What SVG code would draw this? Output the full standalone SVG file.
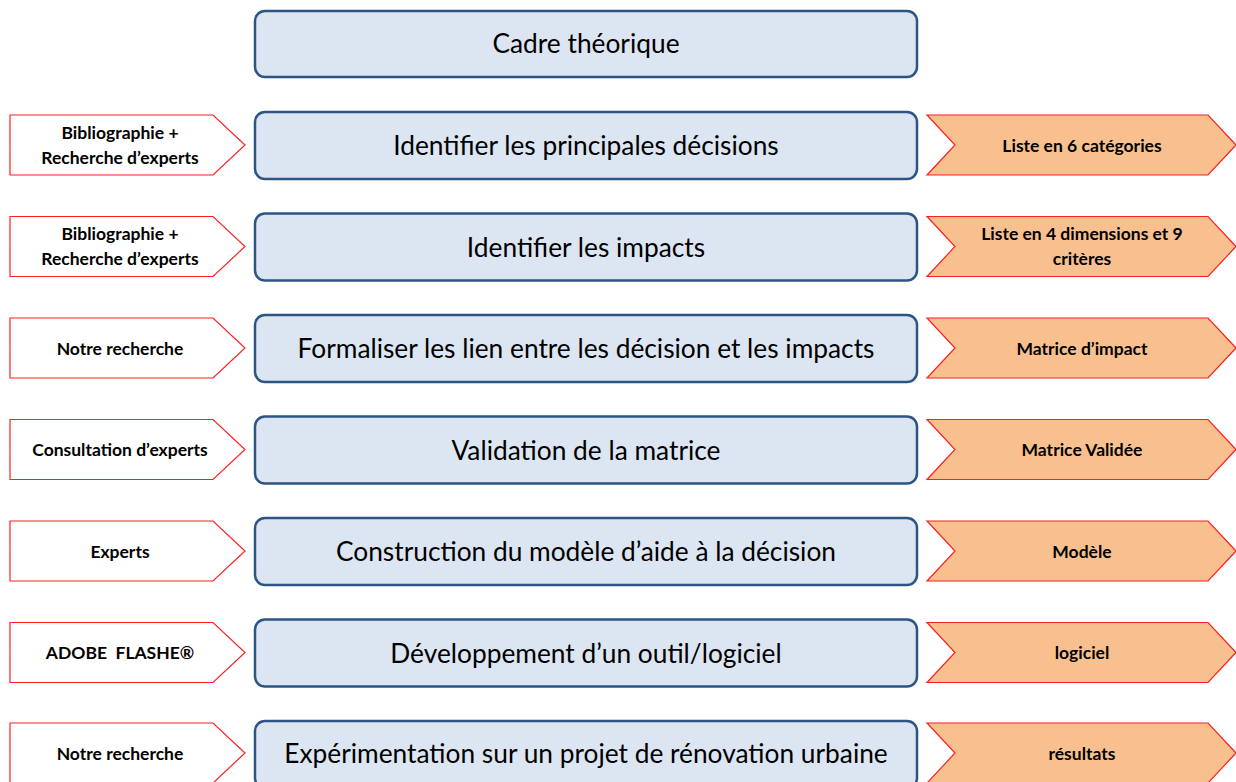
<svg xmlns="http://www.w3.org/2000/svg" width="1236" height="782" viewBox="0 0 1236 782">
<style>
.box{fill:#dce6f2;stroke:#2c5584;stroke-width:2.5}
.in{fill:#ffffff;stroke:#ff2020;stroke-width:1.2}
.out{fill:#f9c08f;stroke:#ff2020;stroke-width:1.2}
.t{font-family:Lato,"Open Sans",sans-serif;font-size:26.3px;fill:#000;text-anchor:middle;dominant-baseline:central}
.s{font-family:Lato,"Open Sans",sans-serif;font-size:17.5px;font-weight:bold;fill:#000;text-anchor:middle;dominant-baseline:central}
</style>
<defs>
<path id="pent" d="M10,0 H213 L245,30 L213,60 H10 Z"/>
<path id="chev" d="M927,0 H1208 L1236,30 L1208,60 H927 L955,30 Z"/>
</defs>
<g id="cadre">
<rect class="box" x="255" y="11" width="662" height="66" rx="10"/>
<text class="t" x="586" y="43">Cadre théorique</text>
</g>
<g id="row1" transform="translate(0,115)">
<use href="#pent" class="in"/><text class="s" x="120" y="17">Bibliographie +</text><text class="s" x="120" y="42">Recherche d’experts</text>
<rect class="box" x="255" y="-3" width="662" height="67" rx="10"/>
<text class="t" x="586" y="30">Identifier les principales décisions</text>
<use href="#chev" class="out"/><text class="s" x="1082" y="30">Liste en 6 catégories</text>
</g>
<g id="row2" transform="translate(0,216.5)">
<use href="#pent" class="in"/><text class="s" x="120" y="17">Bibliographie +</text><text class="s" x="120" y="42">Recherche d’experts</text>
<rect class="box" x="255" y="-3" width="662" height="67" rx="10"/>
<text class="t" x="586" y="30">Identifier les impacts</text>
<use href="#chev" class="out"/><text class="s" x="1082" y="17">Liste en 4 dimensions et 9</text><text class="s" x="1082" y="42">critères</text>
</g>
<g id="row3" transform="translate(0,318)">
<use href="#pent" class="in"/><text class="s" x="120" y="30">Notre recherche</text>
<rect class="box" x="255" y="-3" width="662" height="67" rx="10"/>
<text class="t" x="586" y="30">Formaliser les lien entre les décision et les impacts</text>
<use href="#chev" class="out"/><text class="s" x="1082" y="30">Matrice d’impact</text>
</g>
<g id="row4" transform="translate(0,419.5)">
<use href="#pent" class="in"/><text class="s" x="120" y="30">Consultation d’experts</text>
<rect class="box" x="255" y="-3" width="662" height="67" rx="10"/>
<text class="t" x="586" y="30">Validation de la matrice</text>
<use href="#chev" class="out"/><text class="s" x="1082" y="30">Matrice Validée</text>
</g>
<g id="row5" transform="translate(0,521)">
<use href="#pent" class="in"/><text class="s" x="120" y="30">Experts</text>
<rect class="box" x="255" y="-3" width="662" height="67" rx="10"/>
<text class="t" x="586" y="30">Construction du modèle d’aide à la décision</text>
<use href="#chev" class="out"/><text class="s" x="1082" y="30">Modèle</text>
</g>
<g id="row6" transform="translate(0,622.5)">
<use href="#pent" class="in"/><text class="s" x="120" y="30" xml:space="preserve">ADOBE  FLASHE®</text>
<rect class="box" x="255" y="-3" width="662" height="67" rx="10"/>
<text class="t" x="586" y="30">Développement d’un outil/logiciel</text>
<use href="#chev" class="out"/><text class="s" x="1082" y="30">logiciel</text>
</g>
<g id="row7" transform="translate(0,723)">
<use href="#pent" class="in"/><text class="s" x="120" y="30">Notre recherche</text>
<rect class="box" x="255" y="-2" width="662" height="67" rx="10"/>
<text class="t" x="586" y="30">Expérimentation sur un projet de rénovation urbaine</text>
<use href="#chev" class="out"/><text class="s" x="1082" y="30">résultats</text>
</g>
<g id="connectors"/>
</svg>
